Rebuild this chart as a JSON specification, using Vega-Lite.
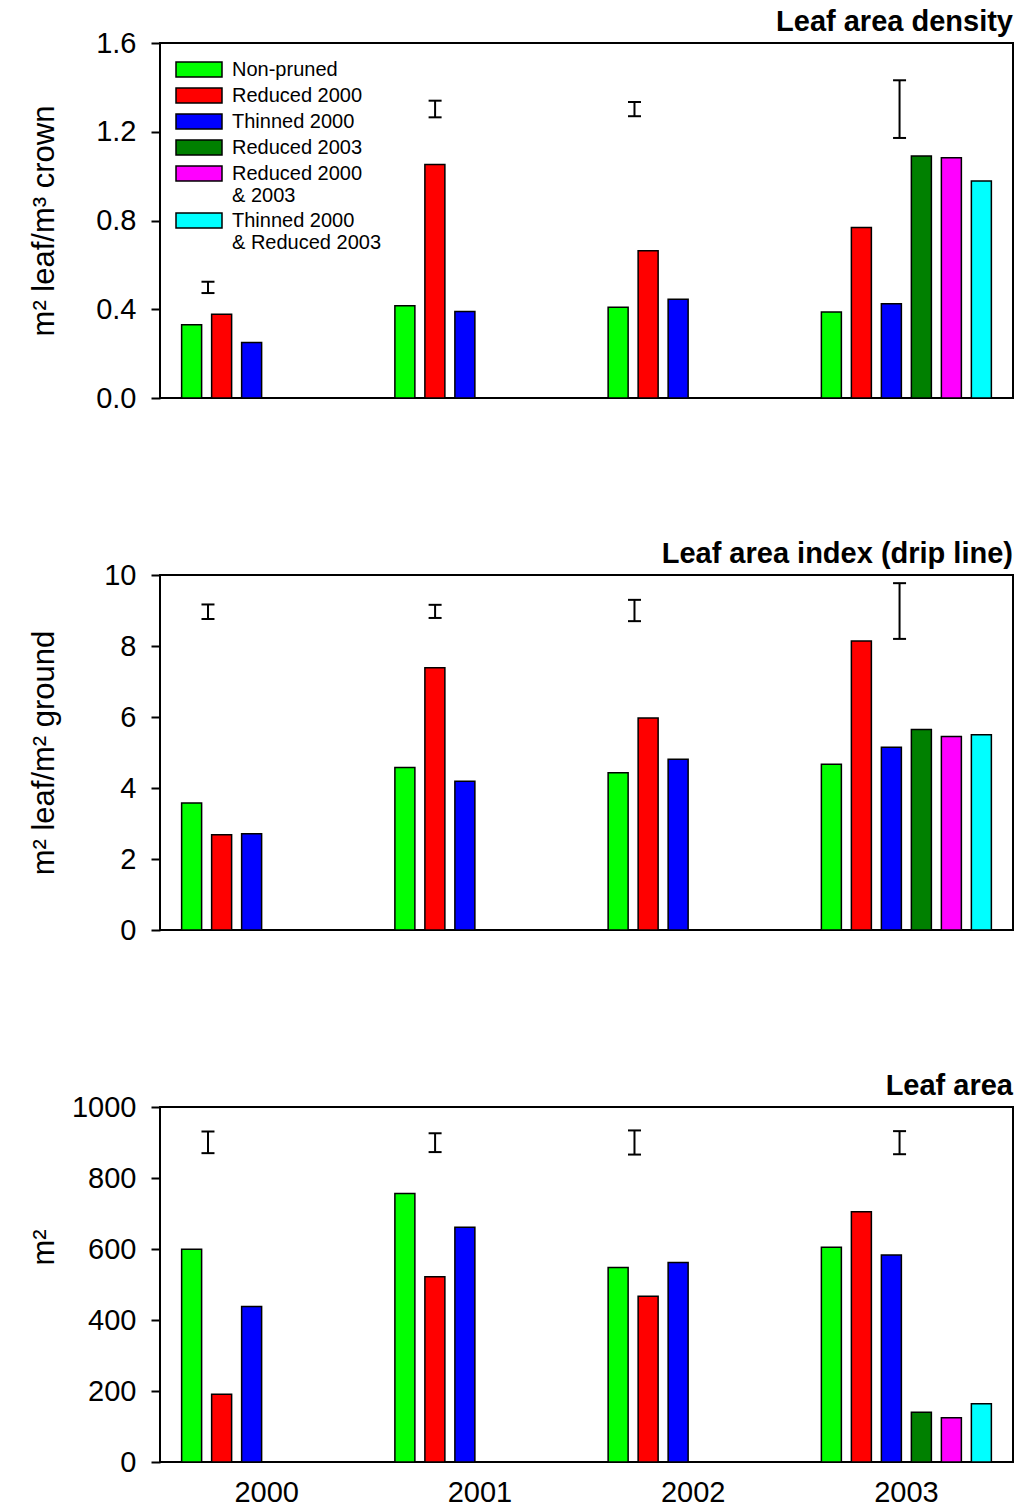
{
  "$schema": "https://vega.github.io/schema/vega-lite/v6.json",
  "padding": {"left": 27, "top": 6, "right": 0, "bottom": 0},
  "spacing": 124,
  "datasets": {
    "bars": [
      {"panel": "density", "year": "2000", "treatment": "Non-pruned", "value": 0.33},
      {"panel": "density", "year": "2000", "treatment": "Reduced 2000", "value": 0.378},
      {"panel": "density", "year": "2000", "treatment": "Thinned 2000", "value": 0.25},
      {"panel": "density", "year": "2001", "treatment": "Non-pruned", "value": 0.416},
      {"panel": "density", "year": "2001", "treatment": "Reduced 2000", "value": 1.052},
      {"panel": "density", "year": "2001", "treatment": "Thinned 2000", "value": 0.39},
      {"panel": "density", "year": "2002", "treatment": "Non-pruned", "value": 0.409},
      {"panel": "density", "year": "2002", "treatment": "Reduced 2000", "value": 0.664},
      {"panel": "density", "year": "2002", "treatment": "Thinned 2000", "value": 0.445},
      {"panel": "density", "year": "2003", "treatment": "Non-pruned", "value": 0.388},
      {"panel": "density", "year": "2003", "treatment": "Reduced 2000", "value": 0.768},
      {"panel": "density", "year": "2003", "treatment": "Thinned 2000", "value": 0.425},
      {"panel": "density", "year": "2003", "treatment": "Reduced 2003", "value": 1.091},
      {"panel": "density", "year": "2003", "treatment": "Reduced 2000 & 2003", "value": 1.083},
      {"panel": "density", "year": "2003", "treatment": "Thinned 2000 & Reduced 2003", "value": 0.978},
      {"panel": "lai", "year": "2000", "treatment": "Non-pruned", "value": 3.58},
      {"panel": "lai", "year": "2000", "treatment": "Reduced 2000", "value": 2.68},
      {"panel": "lai", "year": "2000", "treatment": "Thinned 2000", "value": 2.71},
      {"panel": "lai", "year": "2001", "treatment": "Non-pruned", "value": 4.58},
      {"panel": "lai", "year": "2001", "treatment": "Reduced 2000", "value": 7.39},
      {"panel": "lai", "year": "2001", "treatment": "Thinned 2000", "value": 4.19},
      {"panel": "lai", "year": "2002", "treatment": "Non-pruned", "value": 4.43},
      {"panel": "lai", "year": "2002", "treatment": "Reduced 2000", "value": 5.97},
      {"panel": "lai", "year": "2002", "treatment": "Thinned 2000", "value": 4.81},
      {"panel": "lai", "year": "2003", "treatment": "Non-pruned", "value": 4.67},
      {"panel": "lai", "year": "2003", "treatment": "Reduced 2000", "value": 8.14},
      {"panel": "lai", "year": "2003", "treatment": "Thinned 2000", "value": 5.15},
      {"panel": "lai", "year": "2003", "treatment": "Reduced 2003", "value": 5.65},
      {"panel": "lai", "year": "2003", "treatment": "Reduced 2000 & 2003", "value": 5.45},
      {"panel": "lai", "year": "2003", "treatment": "Thinned 2000 & Reduced 2003", "value": 5.5},
      {"panel": "area", "year": "2000", "treatment": "Non-pruned", "value": 599},
      {"panel": "area", "year": "2000", "treatment": "Reduced 2000", "value": 191},
      {"panel": "area", "year": "2000", "treatment": "Thinned 2000", "value": 438},
      {"panel": "area", "year": "2001", "treatment": "Non-pruned", "value": 756},
      {"panel": "area", "year": "2001", "treatment": "Reduced 2000", "value": 522},
      {"panel": "area", "year": "2001", "treatment": "Thinned 2000", "value": 661},
      {"panel": "area", "year": "2002", "treatment": "Non-pruned", "value": 548},
      {"panel": "area", "year": "2002", "treatment": "Reduced 2000", "value": 467},
      {"panel": "area", "year": "2002", "treatment": "Thinned 2000", "value": 562},
      {"panel": "area", "year": "2003", "treatment": "Non-pruned", "value": 605},
      {"panel": "area", "year": "2003", "treatment": "Reduced 2000", "value": 705},
      {"panel": "area", "year": "2003", "treatment": "Thinned 2000", "value": 583},
      {"panel": "area", "year": "2003", "treatment": "Reduced 2003", "value": 140},
      {"panel": "area", "year": "2003", "treatment": "Reduced 2000 & 2003", "value": 125},
      {"panel": "area", "year": "2003", "treatment": "Thinned 2000 & Reduced 2003", "value": 164}
    ],
    "lsd": [
      {"panel": "density", "year": "2000", "lo": 0.473, "hi": 0.524},
      {"panel": "density", "year": "2001", "lo": 1.265, "hi": 1.34},
      {"panel": "density", "year": "2002", "lo": 1.27, "hi": 1.334},
      {"panel": "density", "year": "2003", "lo": 1.172, "hi": 1.432},
      {"panel": "lai", "year": "2000", "lo": 8.76, "hi": 9.17},
      {"panel": "lai", "year": "2001", "lo": 8.79, "hi": 9.16},
      {"panel": "lai", "year": "2002", "lo": 8.7, "hi": 9.3},
      {"panel": "lai", "year": "2003", "lo": 8.2, "hi": 9.77},
      {"panel": "area", "year": "2000", "lo": 870, "hi": 931},
      {"panel": "area", "year": "2001", "lo": 873, "hi": 926},
      {"panel": "area", "year": "2002", "lo": 866, "hi": 934},
      {"panel": "area", "year": "2003", "lo": 867, "hi": 932}
    ]
  },
  "resolve": {"scale": {"color": "independent"}, "legend": {"color": "independent"}},
  "vconcat": [
    {
      "title": {"text": "Leaf area density"},
      "width": 853,
      "height": 355,
      "layer": [
        {
          "data": {"name": "bars"},
          "transform": [{"filter": "datum.panel == 'density'"}],
          "mark": {"type": "bar", "stroke": "black", "strokeWidth": 1.5},
          "encoding": {
            "x": {"field": "year", "type": "nominal", "scale": {"domain": ["2000", "2001", "2002", "2003"], "paddingInner": 0, "paddingOuter": 0}, "axis": {"labels": false, "ticks": false, "domain": false, "title": null}},
            "xOffset": {"field": "treatment", "type": "nominal", "scale": {"domain": ["Non-pruned", "Reduced 2000", "Thinned 2000", "Reduced 2003", "Reduced 2000 & 2003", "Thinned 2000 & Reduced 2003"], "paddingInner": 0.3333, "paddingOuter": 0.721}},
            "y": {"field": "value", "type": "quantitative", "scale": {"domain": [0, 1.6], "nice": false}, "axis": {"title": "m² leaf/m³ crown", "values": [0, 0.4, 0.8, 1.2, 1.6], "format": ".1f"}},
            "color": {
              "field": "treatment", "type": "nominal",
              "scale": {"domain": ["Non-pruned", "Reduced 2000", "Thinned 2000", "Reduced 2003", "Reduced 2000 & 2003", "Thinned 2000 & Reduced 2003"], "range": ["#00ff00", "#ff0000", "#0000ff", "#008000", "#ff00ff", "#00ffff"]},
              "legend": {
                "orient": "none", "legendX": 28, "legendY": 15.5, "title": null,
                "symbolType": "M-2.3,-0.75L2.3,-0.75L2.3,0.75L-2.3,0.75Z", "symbolSize": 400,
                "symbolStrokeColor": "black", "symbolStrokeWidth": 1.5, "symbolOpacity": 1,
                "labelFontSize": 20, "labelOffset": 22, "rowPadding": 4, "labelLimit": 400, "labelColor": "black",
                "labelExpr": "datum.label == 'Reduced 2000 & 2003' ? ['Reduced 2000', '& 2003'] : datum.label == 'Thinned 2000 & Reduced 2003' ? ['Thinned 2000', '& Reduced 2003'] : datum.label"
              }
            }
          }
        },
        {
          "data": {"name": "lsd"},
          "transform": [{"filter": "datum.panel == 'density' && (datum.year == '2000' || datum.year == '2002')"}],
          "encoding": {"x": {"field": "year", "type": "nominal", "bandPosition": 0.225}},
          "layer": [
            {"mark": {"type": "rule", "strokeWidth": 2, "color": "black"}, "encoding": {"y": {"field": "lo", "type": "quantitative", "title": "m² leaf/m³ crown"}, "y2": {"field": "hi"}}},
            {"transform": [{"fold": ["lo", "hi"], "as": ["end", "v"]}], "mark": {"type": "point", "shape": "M-1,0L1,0", "size": 169, "stroke": "black", "strokeWidth": 2, "filled": false, "opacity": 1}, "encoding": {"y": {"field": "v", "type": "quantitative", "title": "m² leaf/m³ crown"}}}
          ]
        },
        {
          "data": {"name": "lsd"},
          "transform": [{"filter": "datum.panel == 'density' && datum.year == '2001'"}],
          "encoding": {"x": {"field": "year", "type": "nominal", "bandPosition": 0.29}},
          "layer": [
            {"mark": {"type": "rule", "strokeWidth": 2, "color": "black"}, "encoding": {"y": {"field": "lo", "type": "quantitative", "title": "m² leaf/m³ crown"}, "y2": {"field": "hi"}}},
            {"transform": [{"fold": ["lo", "hi"], "as": ["end", "v"]}], "mark": {"type": "point", "shape": "M-1,0L1,0", "size": 169, "stroke": "black", "strokeWidth": 2, "filled": false, "opacity": 1}, "encoding": {"y": {"field": "v", "type": "quantitative", "title": "m² leaf/m³ crown"}}}
          ]
        },
        {
          "data": {"name": "lsd"},
          "transform": [{"filter": "datum.panel == 'density' && datum.year == '2003'"}],
          "encoding": {"x": {"field": "year", "type": "nominal", "bandPosition": 0.468}},
          "layer": [
            {"mark": {"type": "rule", "strokeWidth": 2, "color": "black"}, "encoding": {"y": {"field": "lo", "type": "quantitative", "title": "m² leaf/m³ crown"}, "y2": {"field": "hi"}}},
            {"transform": [{"fold": ["lo", "hi"], "as": ["end", "v"]}], "mark": {"type": "point", "shape": "M-1,0L1,0", "size": 169, "stroke": "black", "strokeWidth": 2, "filled": false, "opacity": 1}, "encoding": {"y": {"field": "v", "type": "quantitative", "title": "m² leaf/m³ crown"}}}
          ]
        }
      ]
    },
    {
      "title": {"text": "Leaf area index (drip line)"},
      "width": 853,
      "height": 355,
      "layer": [
        {
          "data": {"name": "bars"},
          "transform": [{"filter": "datum.panel == 'lai'"}],
          "mark": {"type": "bar", "stroke": "black", "strokeWidth": 1.5},
          "encoding": {
            "x": {"field": "year", "type": "nominal", "scale": {"domain": ["2000", "2001", "2002", "2003"], "paddingInner": 0, "paddingOuter": 0}, "axis": {"labels": false, "ticks": false, "domain": false, "title": null}},
            "xOffset": {"field": "treatment", "type": "nominal", "scale": {"domain": ["Non-pruned", "Reduced 2000", "Thinned 2000", "Reduced 2003", "Reduced 2000 & 2003", "Thinned 2000 & Reduced 2003"], "paddingInner": 0.3333, "paddingOuter": 0.721}},
            "y": {"field": "value", "type": "quantitative", "scale": {"domain": [0, 10], "nice": false}, "axis": {"title": "m² leaf/m² ground", "values": [0, 2, 4, 6, 8, 10]}},
            "color": {
              "field": "treatment", "type": "nominal",
              "scale": {"domain": ["Non-pruned", "Reduced 2000", "Thinned 2000", "Reduced 2003", "Reduced 2000 & 2003", "Thinned 2000 & Reduced 2003"], "range": ["#00ff00", "#ff0000", "#0000ff", "#008000", "#ff00ff", "#00ffff"]},
              "legend": null
            }
          }
        },
        {
          "data": {"name": "lsd"},
          "transform": [{"filter": "datum.panel == 'lai' && (datum.year == '2000' || datum.year == '2002')"}],
          "encoding": {"x": {"field": "year", "type": "nominal", "bandPosition": 0.225}},
          "layer": [
            {"mark": {"type": "rule", "strokeWidth": 2, "color": "black"}, "encoding": {"y": {"field": "lo", "type": "quantitative", "title": "m² leaf/m² ground"}, "y2": {"field": "hi"}}},
            {"transform": [{"fold": ["lo", "hi"], "as": ["end", "v"]}], "mark": {"type": "point", "shape": "M-1,0L1,0", "size": 169, "stroke": "black", "strokeWidth": 2, "filled": false, "opacity": 1}, "encoding": {"y": {"field": "v", "type": "quantitative", "title": "m² leaf/m² ground"}}}
          ]
        },
        {
          "data": {"name": "lsd"},
          "transform": [{"filter": "datum.panel == 'lai' && datum.year == '2001'"}],
          "encoding": {"x": {"field": "year", "type": "nominal", "bandPosition": 0.29}},
          "layer": [
            {"mark": {"type": "rule", "strokeWidth": 2, "color": "black"}, "encoding": {"y": {"field": "lo", "type": "quantitative", "title": "m² leaf/m² ground"}, "y2": {"field": "hi"}}},
            {"transform": [{"fold": ["lo", "hi"], "as": ["end", "v"]}], "mark": {"type": "point", "shape": "M-1,0L1,0", "size": 169, "stroke": "black", "strokeWidth": 2, "filled": false, "opacity": 1}, "encoding": {"y": {"field": "v", "type": "quantitative", "title": "m² leaf/m² ground"}}}
          ]
        },
        {
          "data": {"name": "lsd"},
          "transform": [{"filter": "datum.panel == 'lai' && datum.year == '2003'"}],
          "encoding": {"x": {"field": "year", "type": "nominal", "bandPosition": 0.468}},
          "layer": [
            {"mark": {"type": "rule", "strokeWidth": 2, "color": "black"}, "encoding": {"y": {"field": "lo", "type": "quantitative", "title": "m² leaf/m² ground"}, "y2": {"field": "hi"}}},
            {"transform": [{"fold": ["lo", "hi"], "as": ["end", "v"]}], "mark": {"type": "point", "shape": "M-1,0L1,0", "size": 169, "stroke": "black", "strokeWidth": 2, "filled": false, "opacity": 1}, "encoding": {"y": {"field": "v", "type": "quantitative", "title": "m² leaf/m² ground"}}}
          ]
        }
      ]
    },
    {
      "title": {"text": "Leaf area"},
      "width": 853,
      "height": 355,
      "layer": [
        {
          "data": {"name": "bars"},
          "transform": [{"filter": "datum.panel == 'area'"}],
          "mark": {"type": "bar", "stroke": "black", "strokeWidth": 1.5},
          "encoding": {
            "x": {"field": "year", "type": "nominal", "scale": {"domain": ["2000", "2001", "2002", "2003"], "paddingInner": 0, "paddingOuter": 0}, "axis": {"labels": true, "ticks": false, "domain": false, "title": null, "labelAngle": 0, "labelPadding": 16}},
            "xOffset": {"field": "treatment", "type": "nominal", "scale": {"domain": ["Non-pruned", "Reduced 2000", "Thinned 2000", "Reduced 2003", "Reduced 2000 & 2003", "Thinned 2000 & Reduced 2003"], "paddingInner": 0.3333, "paddingOuter": 0.721}},
            "y": {"field": "value", "type": "quantitative", "scale": {"domain": [0, 1000], "nice": false}, "axis": {"title": "m²", "values": [0, 200, 400, 600, 800, 1000], "format": "d", "titleY": 140}},
            "color": {
              "field": "treatment", "type": "nominal",
              "scale": {"domain": ["Non-pruned", "Reduced 2000", "Thinned 2000", "Reduced 2003", "Reduced 2000 & 2003", "Thinned 2000 & Reduced 2003"], "range": ["#00ff00", "#ff0000", "#0000ff", "#008000", "#ff00ff", "#00ffff"]},
              "legend": null
            }
          }
        },
        {
          "data": {"name": "lsd"},
          "transform": [{"filter": "datum.panel == 'area' && (datum.year == '2000' || datum.year == '2002')"}],
          "encoding": {"x": {"field": "year", "type": "nominal", "bandPosition": 0.225}},
          "layer": [
            {"mark": {"type": "rule", "strokeWidth": 2, "color": "black"}, "encoding": {"y": {"field": "lo", "type": "quantitative", "title": "m²"}, "y2": {"field": "hi"}}},
            {"transform": [{"fold": ["lo", "hi"], "as": ["end", "v"]}], "mark": {"type": "point", "shape": "M-1,0L1,0", "size": 169, "stroke": "black", "strokeWidth": 2, "filled": false, "opacity": 1}, "encoding": {"y": {"field": "v", "type": "quantitative", "title": "m²"}}}
          ]
        },
        {
          "data": {"name": "lsd"},
          "transform": [{"filter": "datum.panel == 'area' && datum.year == '2001'"}],
          "encoding": {"x": {"field": "year", "type": "nominal", "bandPosition": 0.29}},
          "layer": [
            {"mark": {"type": "rule", "strokeWidth": 2, "color": "black"}, "encoding": {"y": {"field": "lo", "type": "quantitative", "title": "m²"}, "y2": {"field": "hi"}}},
            {"transform": [{"fold": ["lo", "hi"], "as": ["end", "v"]}], "mark": {"type": "point", "shape": "M-1,0L1,0", "size": 169, "stroke": "black", "strokeWidth": 2, "filled": false, "opacity": 1}, "encoding": {"y": {"field": "v", "type": "quantitative", "title": "m²"}}}
          ]
        },
        {
          "data": {"name": "lsd"},
          "transform": [{"filter": "datum.panel == 'area' && datum.year == '2003'"}],
          "encoding": {"x": {"field": "year", "type": "nominal", "bandPosition": 0.468}},
          "layer": [
            {"mark": {"type": "rule", "strokeWidth": 2, "color": "black"}, "encoding": {"y": {"field": "lo", "type": "quantitative", "title": "m²"}, "y2": {"field": "hi"}}},
            {"transform": [{"fold": ["lo", "hi"], "as": ["end", "v"]}], "mark": {"type": "point", "shape": "M-1,0L1,0", "size": 169, "stroke": "black", "strokeWidth": 2, "filled": false, "opacity": 1}, "encoding": {"y": {"field": "v", "type": "quantitative", "title": "m²"}}}
          ]
        }
      ]
    }
  ],
  "config": {
    "font": "Liberation Sans",
    "background": "white",
    "view": {"stroke": "black", "strokeWidth": 2},
    "axis": {"grid": false, "labelColor": "black", "titleColor": "black", "labelFontSize": 29, "titleFontSize": 31, "titleFontWeight": "normal", "labelFont": "Liberation Sans", "titleFont": "Liberation Sans"},
    "axisY": {"domain": false, "tickSize": 9, "tickWidth": 2, "tickColor": "black", "labelPadding": 15, "titleX": -107, "titleBaseline": "alphabetic", "titleAlign": "center", "titleAngle": -90},
    "title": {"anchor": "end", "fontSize": 29, "fontWeight": "bold", "color": "black", "offset": -7.5, "font": "Liberation Sans"}
  }
}
